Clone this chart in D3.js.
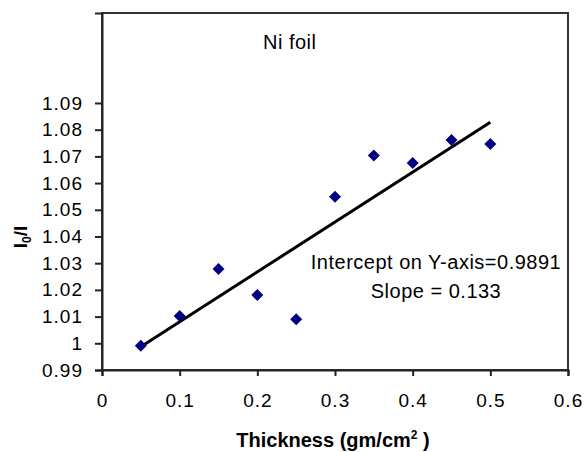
<!DOCTYPE html>
<html>
<head>
<meta charset="utf-8">
<script src="https://cdn.jsdelivr.net/npm/d3@7"></script>
<style>
  body { margin: 0; background: #fff; }
  svg text { font-family: "Liberation Sans", Arial, sans-serif; fill: #000; }
</style>
</head>
<body>
<svg id="chart" width="585" height="452"></svg>
<script>
// data
const thickness = [0.05, 0.1, 0.15, 0.2, 0.25, 0.3, 0.35, 0.4, 0.45, 0.5]
const ratio = [0.9991, 1.0102, 1.0278, 1.0181, 1.0090, 1.0549, 1.0703, 1.0675, 1.0761, 1.0746]
const xTicks = [0, 0.1, 0.2, 0.3, 0.4, 0.5, 0.6]
const yTicks = [0.99, 1, 1.01, 1.02, 1.03, 1.04, 1.05, 1.06, 1.07, 1.08, 1.09]
const notes = ["Intercept on Y-axis=0.9891", "Slope = 0.133"]

const svg = d3.select("#chart")
const plotL = 102, plotR = 568, plotT = 13, plotB = 370

const x = d3.scaleLinear().domain([0, 0.6]).range([plotL, plotR])
const y = d3.scaleLinear().domain([0.99, 1.1237]).range([plotB, plotT])

// plot frame
svg.append("rect")
  .attr("x", plotL).attr("y", plotT)
  .attr("width", plotR - plotL).attr("height", plotB - plotT)
  .attr("fill", "none").attr("stroke", "#333").attr("stroke-width", 2)

// axes
const xAxis = d3.axisBottom(x).tickValues(xTicks).tickSize(6).tickPadding(18)
  .tickFormat(d => d === 0 ? "0" : String(d))
const yAxis = d3.axisLeft(y).tickValues(yTicks).tickSize(7).tickPadding(12)
  .tickFormat(d => String(+d.toFixed(2)))

const gx = svg.append("g").attr("transform", `translate(0,${plotB})`).call(xAxis)
const gy = svg.append("g").attr("transform", `translate(${plotL},0)`).call(yAxis)
for (const g of [gx, gy]) {
  g.select(".domain").attr("stroke", "#222").attr("stroke-width", 2)
  g.selectAll(".tick line").attr("stroke", "#222").attr("stroke-width", 2)
  g.selectAll(".tick text").attr("font-size", 19).attr("letter-spacing", 1)
    .attr("font-family", "Liberation Sans, Arial, sans-serif").attr("fill", "#111")
}

// linear trendline (least squares)
const mx = d3.mean(thickness), my = d3.mean(ratio)
const sxy = d3.sum(thickness, (t, i) => (t - mx) * (ratio[i] - my))
const sxx = d3.sum(thickness, t => (t - mx) ** 2)
const slope = sxy / sxx, icpt = my - slope * mx
const ends = d3.extent(thickness)
svg.append("path")
  .datum(ends)
  .attr("d", d3.line().x(t => x(t)).y(t => y(icpt + slope * t)))
  .attr("stroke", "#000").attr("stroke-width", 3).attr("fill", "none")

// markers
const diamond = d3.symbol().type(d3.symbolSquare).size(72)
svg.append("g").selectAll("path").data(thickness).join("path")
  .attr("d", diamond)
  .attr("transform", (t, i) => `translate(${x(t)},${y(ratio[i])}) rotate(45)`)
  .attr("fill", "#000080")

// texts
svg.append("text").attr("x", 263).attr("y", 49).attr("font-size", 20)
  .attr("letter-spacing", 0.5).text("Ni foil")
svg.selectAll(".note").data(notes).join("text").attr("class", "note")
  .attr("x", 436).attr("y", (d, i) => 269 + i * 29)
  .attr("text-anchor", "middle").attr("font-size", 20).attr("letter-spacing", 0.5)
  .text(d => d)

const xt = svg.append("text").attr("x", 333).attr("y", 447)
  .attr("text-anchor", "middle").attr("font-size", 20).attr("font-weight", "bold")
xt.append("tspan").text("Thickness (gm/cm")
xt.append("tspan").attr("font-size", 12).attr("dy", -8).text("2")
xt.append("tspan").attr("dy", 8).text(" )")

const yt = svg.append("text").attr("transform", "translate(27,237) rotate(-90)")
  .attr("text-anchor", "middle").attr("font-size", 19).attr("font-weight", "bold")
yt.append("tspan").text("I")
yt.append("tspan").attr("font-size", 12).attr("dy", 4).text("0")
yt.append("tspan").attr("dy", -4).text("/I")
</script>
</body>
</html>
